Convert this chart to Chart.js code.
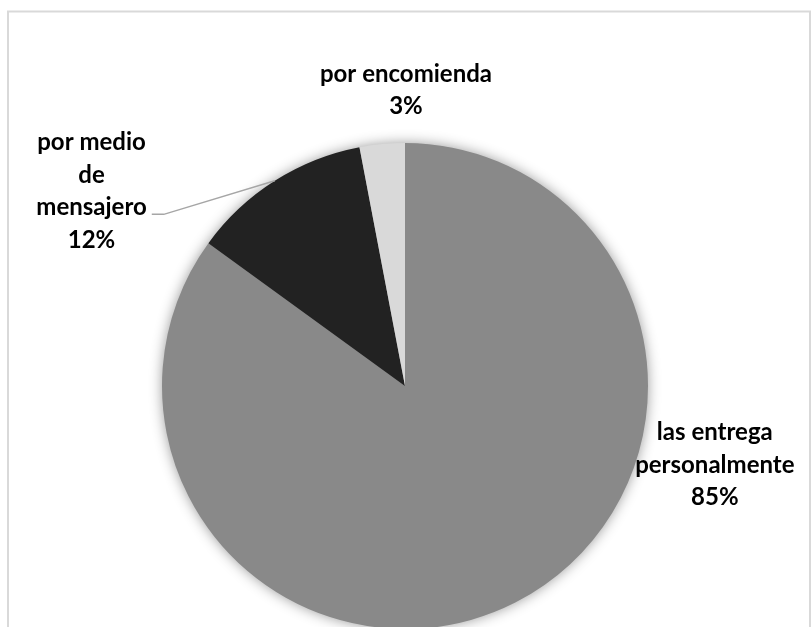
<!DOCTYPE html>
<html>
<head>
<meta charset="utf-8">
<script src="https://cdn.jsdelivr.net/npm/chart.js@4.4.1/dist/chart.umd.min.js"></script>
<style>
  html, body { margin: 0; padding: 0; background: #fff; overflow: hidden; }
  #wrap { width: 811px; height: 627px; overflow: hidden; }
</style>
</head>
<body>
<div id="wrap"><canvas id="deliveryPie" width="811" height="645"></canvas></div>
<script>
// slices, clockwise from 12 o'clock
const categories = [
  ['las entrega', 'personalmente'],
  ['por medio', 'de', 'mensajero'],
  ['por encomienda']
];
const shares = [85, 12, 3];
const sliceColors = ['#898989', '#222222', '#d9d9d9'];

// where each label block sits, in pie radii from the centre
const labelAnchors = [[1.275, 0.325], [-1.29, -0.802], [0.004, -1.218]];
const labelFont = 'bold 24px Lato, "Open Sans", sans-serif';
const lineHeight = 32.5;

const frame = {
  id: 'frame',
  beforeDraw(chart) {
    const ctx = chart.ctx;
    ctx.save();
    ctx.strokeStyle = '#d9d9d9';
    ctx.lineWidth = 2;
    ctx.strokeRect(8, 11.5, 802, 660);
    ctx.restore();
  }
};

// soft shadow under the whole pie
const pieShadow = {
  id: 'pieShadow',
  beforeDatasetsDraw(chart) {
    const arc = chart.getDatasetMeta(0).data[0];
    if (!arc) return;
    const ctx = chart.ctx;
    ctx.save();
    ctx.shadowColor = 'rgba(0,0,0,0.45)';
    ctx.shadowBlur = 14;
    ctx.fillStyle = '#898989';
    ctx.beginPath();
    ctx.arc(arc.x, arc.y, arc.outerRadius - 1, 0, Math.PI * 2);
    ctx.fill();
    ctx.restore();
  }
};

const sliceLabels = {
  id: 'sliceLabels',
  afterDatasetsDraw(chart) {
    const ctx = chart.ctx;
    const arcs = chart.getDatasetMeta(0).data;
    ctx.save();
    ctx.font = labelFont;
    ctx.fillStyle = '#000';
    ctx.textAlign = 'center';
    ctx.textBaseline = 'middle';
    arcs.forEach((arc, i) => {
      const r = arc.outerRadius;
      const cx = arc.x + labelAnchors[i][0] * r;
      const cy = arc.y + labelAnchors[i][1] * r;
      const lines = categories[i].concat([shares[i] + '%']);
      const top = cy - (lines.length - 1) * lineHeight / 2;
      lines.forEach((t, k) => ctx.fillText(t, cx, top + k * lineHeight));

      // leader line for the label that sits away from its slice
      if (i === 1) {
        const k = lines.length - 2;
        const w = ctx.measureText(lines[k]).width;
        const sx = cx + w / 2 + 5;
        const sy = top + k * lineHeight + 7;
        const mid = (arc.startAngle + arc.endAngle) / 2;
        const ex = arc.x + Math.cos(mid) * r;
        const ey = arc.y + Math.sin(mid) * r;
        ctx.strokeStyle = '#a6a6a6';
        ctx.lineWidth = 1.5;
        ctx.beginPath();
        ctx.moveTo(sx, sy);
        ctx.lineTo(sx + 12, sy);
        ctx.lineTo(ex, ey);
        ctx.stroke();
      }
    });
    ctx.restore();
  }
};

const ctxPie = document.getElementById('deliveryPie').getContext('2d');
const deliveryPie = new Chart(ctxPie, {
  type: 'pie',
  data: {
    labels: categories,
    datasets: [{
      data: shares,
      backgroundColor: sliceColors,
      borderWidth: 0
    }]
  },
  options: {
    responsive: false,
    animation: false,
    layout: { padding: { top: 143, bottom: 16, left: 0, right: 1 } },
    plugins: {
      legend: { display: false },
      tooltip: { enabled: false }
    }
  },
  plugins: [frame, pieShadow, sliceLabels]
});
</script>
</body>
</html>
